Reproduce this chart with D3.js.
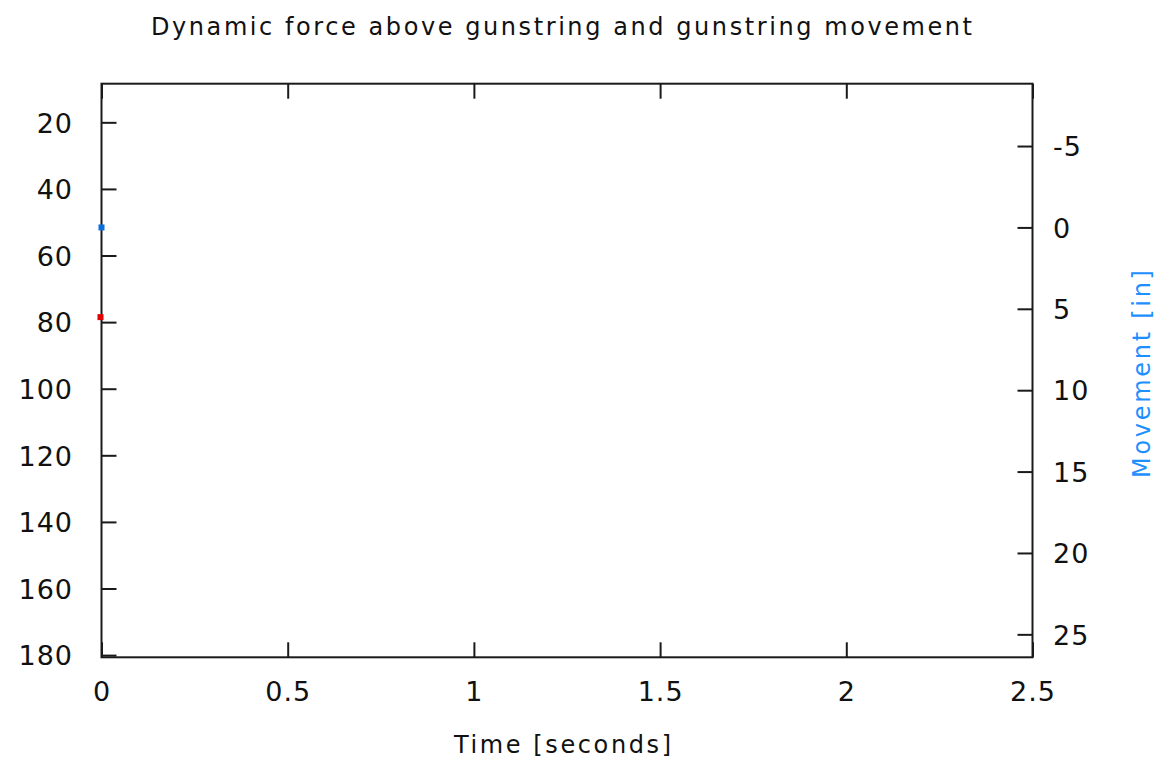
<!DOCTYPE html>
<html>
<head>
<meta charset="utf-8">
<script src="https://cdn.jsdelivr.net/npm/d3@7"></script>
<style>
  html, body { margin: 0; padding: 0; background: #fff; }
  svg { display: block; font-family: "DejaVu Sans", sans-serif; }
</style>
</head>
<body>
<svg id="chart" width="1161" height="762"></svg>
<script>
// ---- data ----
const titleText = "Dynamic force above gunstring and gunstring movement";
const xLabel = "Time [seconds]";
const y2Label = "Movement [in]";
const xTicks = [0, 0.5, 1, 1.5, 2, 2.5];
const yTicks = [20, 40, 60, 80, 100, 120, 140, 160, 180];
const y2Ticks = [-5, 0, 5, 10, 15, 20, 25];
const forceTime = [0];
const forceValues = [78.5];
const moveTime = [0];
const moveValues = [0];

// ---- layout ----
const svg = d3.select("#chart");
const L = 101.5, R = 1032.5, T = 83.7, B = 657.3;
const x = d3.scaleLinear().domain([0, 2.5]).range([L, R]);
const y = d3.scaleLinear().domain([8.4, 180.66]).range([T, B]);
const y2 = d3.scaleLinear().domain([-8.83, 26.41]).range([T, B]);
const axisColor = "#1a1a1a";
const tickLen = 15;
const fmt = d => String(d);

// border
svg.append("rect").attr("x", L).attr("y", T).attr("width", R - L).attr("height", B - T)
  .attr("fill", "none").attr("stroke", axisColor).attr("stroke-width", 2);

// x axis (bottom, ticks inward)
const gx = svg.append("g").attr("transform", `translate(0,${B})`)
  .call(d3.axisBottom(x).tickValues(xTicks).tickSizeInner(-tickLen).tickSizeOuter(0)
    .tickFormat(fmt).tickPadding(0));
// mirrored top ticks
const gxt = svg.append("g").attr("transform", `translate(0,${T})`)
  .call(d3.axisTop(x).tickValues(xTicks).tickSizeInner(-tickLen).tickSizeOuter(0).tickFormat(""));
// left y axis
const gy = svg.append("g").attr("transform", `translate(${L},0)`)
  .call(d3.axisLeft(y).tickValues(yTicks).tickSizeInner(-tickLen).tickSizeOuter(0)
    .tickFormat(fmt).tickPadding(0));
// right y2 axis
const gy2 = svg.append("g").attr("transform", `translate(${R},0)`)
  .call(d3.axisRight(y2).tickValues(y2Ticks).tickSizeInner(-tickLen).tickSizeOuter(0)
    .tickFormat(fmt).tickPadding(0));

[gx, gxt, gy, gy2].forEach(g => {
  g.select(".domain").remove();
  g.selectAll(".tick line").attr("stroke", axisColor).attr("stroke-width", 2);
  g.selectAll("text").attr("fill", "#111").attr("font-size", 27)
    .attr("font-family", "DejaVu Sans").style("letter-spacing", "1px");
});
gx.selectAll(".tick text").attr("y", 701 - B).attr("dy", null).attr("text-anchor", "middle");
gy.selectAll(".tick text").attr("x", 73 - L).attr("dy", "0.36em").attr("text-anchor", "end");
gy2.selectAll(".tick text").attr("x", 1053 - R).attr("dy", "0.36em").attr("text-anchor", "start");

// points
const sz = 6;
svg.append("g").selectAll("rect").data(forceTime.map((t, i) => [t, forceValues[i]]))
  .join("rect")
  .attr("x", d => x(d[0]) - sz / 2 - 1).attr("y", d => y(d[1]) - sz / 2)
  .attr("width", sz).attr("height", sz).attr("fill", "#e00000");
svg.append("g").selectAll("rect").data(moveTime.map((t, i) => [t, moveValues[i]]))
  .join("rect")
  .attr("x", d => x(d[0]) - sz / 2).attr("y", d => y2(d[1]) - sz / 2)
  .attr("width", sz).attr("height", sz).attr("fill", "#0a6fdc");

// title and labels
svg.append("text").attr("x", 561.5).attr("y", 35).attr("text-anchor", "middle")
  .attr("font-size", 24).attr("fill", "#111").attr("textLength", 821).attr("lengthAdjust", "spacing")
  .text(titleText);
svg.append("text").attr("x", 562.5).attr("y", 753).attr("text-anchor", "middle")
  .attr("font-size", 24).attr("fill", "#111").attr("textLength", 217).attr("lengthAdjust", "spacing")
  .text(xLabel);
svg.append("text").attr("transform", "translate(1150,374) rotate(-90)").attr("text-anchor", "middle")
  .attr("font-size", 24).attr("fill", "#1e8fff").attr("textLength", 208).attr("lengthAdjust", "spacing")
  .text(y2Label);
</script>
</body>
</html>
